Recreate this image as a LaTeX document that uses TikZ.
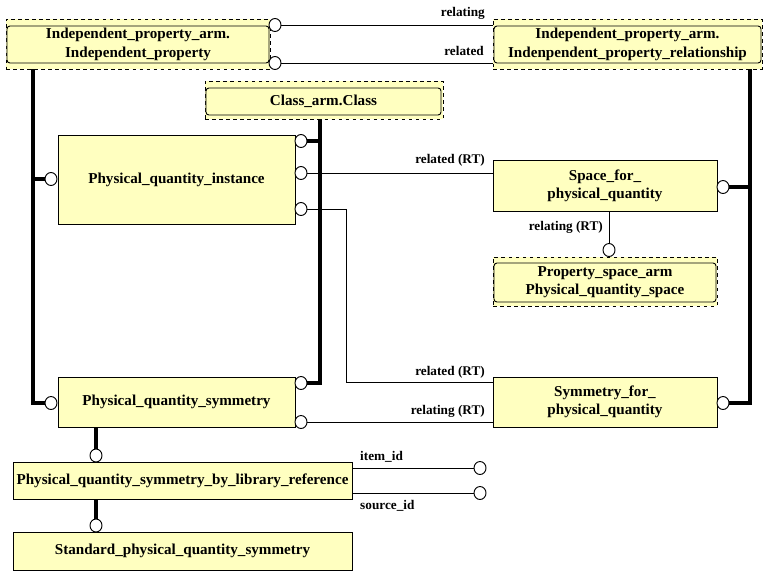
\documentclass[tikz,border=0pt]{standalone}
\usepackage{fontspec}
\setmainfont{Liberation Serif}
\usepackage{tikz}
\usetikzlibrary{calc,shapes.geometric}
\definecolor{entyellow}{RGB}{255,255,192}
\def\drawtree{\draw[line width=4.2pt]}
\def\drawrel{\draw[line width=0.8pt]}
\tikzset{
  ent/.style={draw, fill=entyellow, line width=0.8pt, align=center, inner sep=0pt,
    font=\bfseries\fontsize{12.9}{15.6}\selectfont},
  armbox/.style={ent, rounded corners=2.5pt},
  dashframe/.style={draw, dashed, fill=entyellow, line width=0.8pt, inner sep=0pt},
  ring/.style={draw, fill=white, ellipse, line width=0.8pt, inner sep=0pt,
    minimum width=0.36cm, minimum height=0.39cm},
  lbl/.style={font=\bfseries\fontsize{11.3}{13}\selectfont, inner sep=0pt, anchor=east}
}
\begin{document}
\begin{tikzpicture}[x=0.03cm,y=-0.03cm]
\useasboundingbox (0,0) rectangle (768,576);
% arm entities in dashed frames
\node[dashframe, minimum width=7.92cm, minimum height=1.5cm] (ipframe) at (138,44) {};
\node[armbox, minimum width=7.86cm, minimum height=1.11cm] (ip) at (138,44.5)
  {Independent\_property\_arm.\\Independent\_property};
\node[dashframe, minimum width=8.07cm, minimum height=1.5cm] (iprframe) at (627.5,44) {};
\node[armbox, minimum width=8.01cm, minimum height=1.11cm] (ipr) at (627.5,44.5)
  {Independent\_property\_arm.\\Indenpendent\_property\_relationship};
\node[dashframe, minimum width=7.14cm, minimum height=1.14cm] (clsframe) at (324,100) {};
\node[armbox, minimum width=7.05cm, minimum height=0.81cm] (cls) at (323.5,101.5)
  {Class\_arm.Class};
\node[dashframe, minimum width=6.72cm, minimum height=1.47cm] (psframe) at (605,281.5) {};
\node[armbox, minimum width=6.66cm, minimum height=1.17cm] (ps) at (605,282.5)
  {Property\_space\_arm\\Physical\_quantity\_space};
% entities
\node[ent, minimum width=7.11cm, minimum height=2.67cm] (pqi) at (176.5,179.5)
  {Physical\_quantity\_instance};
\node[ent, minimum width=6.72cm, minimum height=1.53cm] (spq) at (605,185.5)
  {Space\_for\_\\physical\_quantity};
\node[ent, minimum width=7.11cm, minimum height=1.5cm] (pqs) at (176.5,402)
  {Physical\_quantity\_symmetry};
\node[ent, minimum width=6.72cm, minimum height=1.5cm] (sym) at (605,402)
  {Symmetry\_for\_\\physical\_quantity};
\node[ent, minimum width=10.17cm, minimum height=1.11cm] (blr) at (182.5,480.5)
  {Physical\_quantity\_symmetry\_by\_library\_reference};
\node[ent, minimum width=10.17cm, minimum height=1.14cm] (std) at (182.5,551)
  {Standard\_physical\_quantity\_symmetry};
% rings
\node[ring] (ipr1) at (275,25) {};
\node[ring] (ipr2) at (275,63) {};
\node[ring] (pqil) at (51,179) {};
\node[ring] (pqir1) at (301,141) {};
\node[ring] (pqir2) at (301,173) {};
\node[ring] (pqir3) at (301,209) {};
\node[ring] (spqr) at (723,187) {};
\node[ring] (pst) at (609,250) {};
\node[ring] (pqsl) at (51,403) {};
\node[ring] (pqsr1) at (301,383) {};
\node[ring] (pqsr2) at (301,422) {};
\node[ring] (symr) at (723,403) {};
\node[ring] (blrt) at (96,455.5) {};
\node[ring] (blrr1) at (480,468) {};
\node[ring] (blrr2) at (480,493) {};
\node[ring] (stdt) at (96,525.5) {};
% supertype trees
\coordinate (ltop) at (33,69);
\coordinate (ctop) at (320,119);
\coordinate (rtop) at (750,69);
\coordinate (jog) at (346,382);
\drawtree (ltop) |- (pqsl);
\drawtree (ltop |- pqil) -- (pqil);
\drawtree (ctop) |- (pqsr1);
\drawtree (ctop |- pqir1) -- (pqir1);
\drawtree (rtop) |- (symr);
\drawtree (rtop |- spqr) -- (spqr);
\drawtree (pqs.south -| blrt) -- (blrt);
\drawtree (blr.south -| stdt) -- (stdt);
% relations
\drawrel (ipr1) -- (ipr1 -| iprframe.west);
\drawrel (ipr2) -- (ipr2 -| iprframe.west);
\drawrel (pqir2) -- (pqir2 -| spq.west);
\drawrel (pqir3) -| (jog) -- (jog -| sym.west);
\drawrel (pqsr2) -- (pqsr2 -| sym.west);
\drawrel (spq.south -| pst) -- (pst);
\drawrel (blr.east |- blrr1) -- (blrr1);
\drawrel (blr.east |- blrr2) -- (blrr2);
% labels
\node[lbl] (l1) at (485,13) {relating};
\node[lbl] (l2) at (484,51) {related};
\node[lbl] (l3) at (485,160) {related (RT)};
\node[lbl] (l4) at (603,227) {relating (RT)};
\node[lbl] (l5) at (485,372) {related (RT)};
\node[lbl] (l6) at (485,411) {relating (RT)};
\node[lbl, anchor=west] (l7) at (360,457) {item\_id};
\node[lbl, anchor=west] (l8) at (360,506) {source\_id};
\end{tikzpicture}
\end{document}
